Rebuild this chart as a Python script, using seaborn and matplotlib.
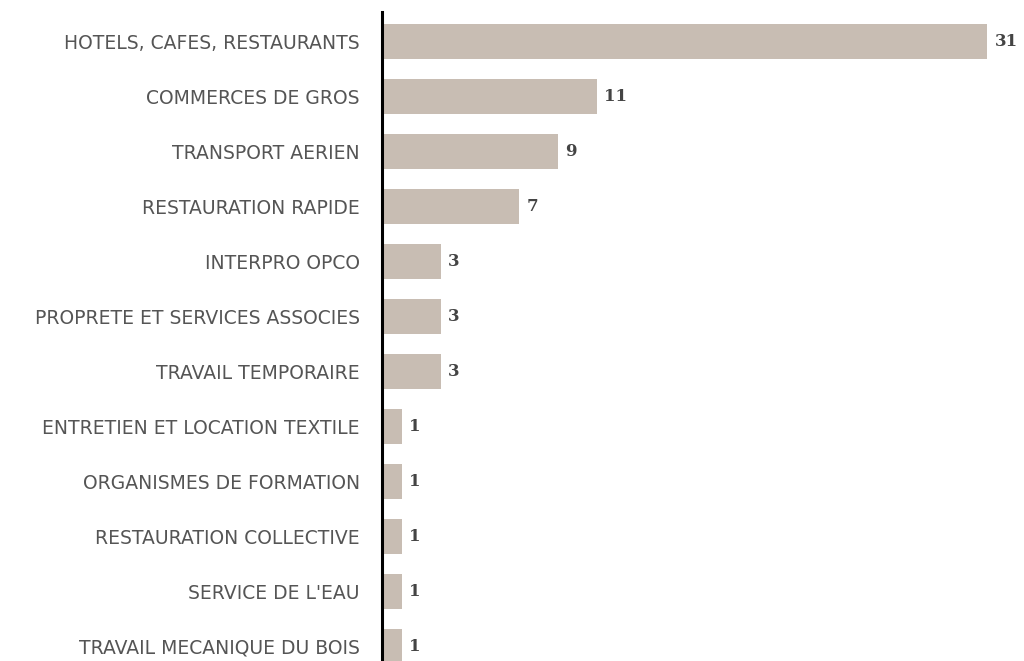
import matplotlib
matplotlib.use("Agg")
import matplotlib.pyplot as plt
import pandas as pd
import seaborn as sns

SECTORS = [
    "HOTELS, CAFES, RESTAURANTS",
    "COMMERCES DE GROS",
    "TRANSPORT AERIEN",
    "RESTAURATION RAPIDE",
    "INTERPRO OPCO",
    "PROPRETE ET SERVICES ASSOCIES",
    "TRAVAIL TEMPORAIRE",
    "ENTRETIEN ET LOCATION TEXTILE",
    "ORGANISMES DE FORMATION",
    "RESTAURATION COLLECTIVE",
    "SERVICE DE L'EAU",
    "TRAVAIL MECANIQUE DU BOIS",
]
COUNTS = [31, 11, 9, 7, 3, 3, 3, 1, 1, 1, 1, 1]

BAR_COLOR = "#c8bdb3"
LABEL_COLOR = "#555555"
VALUE_COLOR = "#444444"


def main():
    sns.set_theme(style="white")
    plt.rcParams["font.family"] = ["DejaVu Sans"]

    df = pd.DataFrame({"sector": SECTORS, "count": COUNTS})

    fig = plt.figure(figsize=(10.24, 6.61), dpi=100)
    ax = fig.add_axes([382 / 1024, 0, 1 - 382 / 1024, 649 / 661])

    sns.barplot(data=df, x="count", y="sector", color=BAR_COLOR,
                saturation=1, width=0.64, linewidth=0, ax=ax)

    # value labels just right of each bar
    for i, v in enumerate(COUNTS):
        ax.text(v + 0.4, i, str(v), va="center", ha="left",
                fontsize=12, fontweight="bold", family="DejaVu Serif",
                color=VALUE_COLOR)

    ax.set_xlim(0, 32.9)
    ax.set_ylim(11.27, -0.53)
    ax.set_xlabel(""); ax.set_ylabel("")
    ax.set_xticks([])
    ax.tick_params(axis="y", length=0, pad=16, labelsize=13.5,
                   labelcolor=LABEL_COLOR)

    for s in ["top", "right", "bottom"]:
        ax.spines[s].set_visible(False)
    ax.spines["left"].set_color("black")
    ax.spines["left"].set_linewidth(2.2)

    fig.savefig("out.png", dpi=100)
    plt.close(fig)


if __name__ == "__main__":
    main()
